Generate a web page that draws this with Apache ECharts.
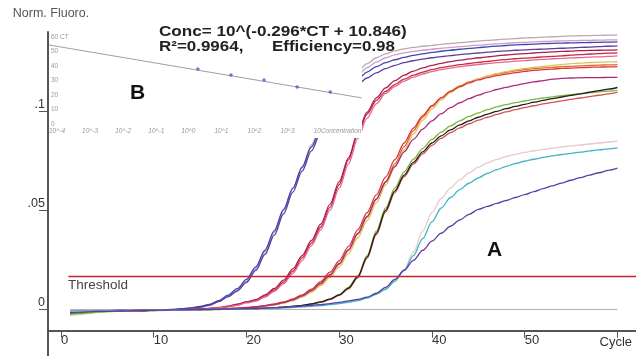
<!DOCTYPE html>
<html><head><meta charset="utf-8">
<script src="https://cdn.jsdelivr.net/npm/echarts@6/dist/echarts.min.js"></script>
<style>html,body{margin:0;padding:0;background:#fff}#c{width:636px;height:356px}</style>
</head><body><div id="c"></div>
<script>
// ---------- main amplification plot data ----------
const cycles=[1,2,3,4,5,6,7,8,9,10,11,12,13,14,15,16,17,18,19,20,21,22,23,24,25,26,27,28,29,30,31,32,33,34,35,36,37,38,39,40,41,42,43,44,45,46,47,48,49,50,51,52,53,54,55,56,57,58,59,60];
const xTicks=[0,10,20,30,40,50,60];
const xLabelValues=[0,10,20,30,40,50];
const yTicks=[0,0.05,0.1];
const yLabels=['0','.05','.1'];
const threshold=0.0166;
const thresholdX=[0.8,62];

const g1Gray=[-0.002,-0.0015,-0.001,-0.001,-0.0008,-0.0008,-0.0006,-0.0005,-0.0005,-0.0004,
-0.0003,-0.0002,0,0.0005,0.001,0.002,0.004,0.0065,0.0095,0.014,
0.0205,0.029,0.039,0.050,0.061,0.072,0.083,0.093,0.102,0.109,
0.115,0.120,0.124,0.127,0.129,0.1305,0.1315,0.1322,0.1328,0.1333,
0.1338,0.1342,0.1346,0.135,0.1354,0.1358,0.1361,0.1364,0.1367,0.137,
0.1372,0.1374,0.1376,0.1378,0.138,0.1381,0.1382,0.1383,0.1384,0.1385];
const g1Pink=[-0.0015,-0.001,-0.001,-0.0008,-0.0006,-0.0006,-0.0005,-0.0004,-0.0003,-0.0003,
-0.0002,0,0.0003,0.0007,0.0013,0.0023,0.0042,0.0068,0.0098,0.0143,
0.0208,0.0292,0.039,0.050,0.061,0.0715,0.082,0.0915,0.100,0.107,
0.113,0.118,0.122,0.1248,0.127,0.1285,0.1295,0.1302,0.1308,0.1313,
0.1318,0.1322,0.1326,0.133,0.1334,0.1337,0.134,0.1343,0.1346,0.1348,
0.135,0.1352,0.1354,0.1355,0.1356,0.1357,0.1358,0.1359,0.136,0.136];
const g1Blue=[-0.001,-0.001,-0.0008,-0.0008,-0.0006,-0.0005,-0.0005,-0.0004,-0.0003,-0.0002,
-0.0002,0,0.0004,0.0008,0.0015,0.0026,0.0045,0.0072,0.0105,0.0152,
0.0215,0.030,0.0398,0.0505,0.0612,0.0718,0.082,0.0912,0.0995,0.1063,
0.1118,0.1162,0.1198,0.1225,0.1245,0.126,0.1272,0.1282,0.129,0.1297,
0.1303,0.1308,0.1313,0.1317,0.1321,0.1325,0.1329,0.1332,0.1335,0.1337,
0.1339,0.1341,0.1343,0.1344,0.1345,0.1346,0.1347,0.1348,0.1349,0.135];
const g1Violet=[-0.002,-0.0018,-0.0015,-0.0012,-0.001,-0.001,-0.0008,-0.0006,-0.0005,-0.0004,
-0.0003,-0.0001,0.0002,0.0006,0.0012,0.0022,0.004,0.0064,0.0093,0.0137,
0.0197,0.0278,0.0375,0.0483,0.0592,0.0698,0.080,0.0892,0.0972,0.104,
0.1092,0.1135,0.1168,0.1194,0.1215,0.1232,0.1245,0.1255,0.1263,0.127,
0.1276,0.1281,0.1286,0.129,0.1294,0.1298,0.1302,0.1305,0.1308,0.131,
0.1312,0.1314,0.1316,0.1318,0.132,0.1322,0.1324,0.1326,0.1328,0.133];

const g2Red=[-0.0015,-0.0012,-0.001,-0.001,-0.0008,-0.0007,-0.0006,-0.0005,-0.0004,-0.0004,
-0.0003,-0.0002,-0.0001,0,0.0002,0.0005,0.0009,0.0015,0.0024,0.0038,
0.0045,0.0068,0.0098,0.0138,0.0193,0.026,0.0335,0.0415,0.0515,0.063,
0.0755,0.0885,0.0985,0.1055,0.110,0.1135,0.1162,0.1182,0.1198,0.121,
0.122,0.1228,0.1235,0.1241,0.1247,0.1252,0.1257,0.1261,0.1265,0.1268,
0.1271,0.1274,0.1277,0.128,0.1283,0.1286,0.1289,0.1291,0.1293,0.1295];
const g2Crimson=[-0.001,-0.001,-0.0008,-0.0007,-0.0006,-0.0005,-0.0005,-0.0004,-0.0003,-0.0003,
-0.0002,-0.0001,0,0.0001,0.0003,0.0006,0.001,0.0017,0.0027,0.0038,
0.005,0.0074,0.0106,0.0148,0.0205,0.0272,0.0348,0.043,0.053,0.0645,
0.0765,0.0892,0.0995,0.1068,0.1118,0.1155,0.1182,0.1203,0.1219,0.1232,
0.1242,0.1251,0.1258,0.1264,0.127,0.1275,0.128,0.1284,0.1288,0.1291,
0.1294,0.1297,0.13,0.1302,0.1304,0.1306,0.1307,0.1308,0.1309,0.131];
const g2Pink=[-0.0012,-0.001,-0.0009,-0.0008,-0.0007,-0.0006,-0.0005,-0.0004,-0.0004,-0.0003,
-0.0002,-0.0002,-0.0001,0,0.0002,0.0004,0.0008,0.0013,0.0021,0.0033,
0.0042,0.0063,0.0091,0.013,0.0182,0.0247,0.0322,0.0402,0.050,0.0612,
0.0735,0.0862,0.0965,0.1038,0.109,0.1125,0.1152,0.1172,0.1188,0.12,
0.121,0.1218,0.1225,0.1231,0.1236,0.1241,0.1245,0.1249,0.1253,0.1256,
0.1259,0.1262,0.1265,0.1267,0.1269,0.1271,0.1273,0.1275,0.1277,0.128];

const g3Orange=[-0.002,-0.0018,-0.0015,-0.0012,-0.001,-0.0009,-0.0008,-0.0007,-0.0006,-0.0005,
-0.0004,-0.0003,-0.0002,-0.0001,0,0.0001,0.0002,0.0004,0.0006,0.0009,
0.0013,0.0018,0.0025,0.0034,0.0047,0.0066,0.0093,0.0128,0.0172,0.0228,
0.0298,0.038,0.0465,0.0555,0.0645,0.0735,0.0822,0.0902,0.097,0.1025,
0.1068,0.1102,0.1128,0.1148,0.1164,0.1177,0.1188,0.1197,0.1204,0.121,
0.1215,0.1219,0.1222,0.1225,0.1227,0.1229,0.1231,0.1233,0.1234,0.1235];
const g3Yellow=[-0.003,-0.0025,-0.002,-0.0015,-0.0012,-0.001,-0.0009,-0.0008,-0.0007,-0.0006,
-0.0005,-0.0004,-0.0003,-0.0002,-0.0001,0,0.0001,0.0003,0.0005,0.0008,
0.0012,0.0017,0.0023,0.0032,0.0044,0.0062,0.0087,0.012,0.0162,0.0215,
0.0282,0.0362,0.0448,0.0538,0.0628,0.0718,0.0805,0.0885,0.0955,0.1012,
0.1058,0.1094,0.1122,0.1145,0.1163,0.1178,0.119,0.12,0.1209,0.1216,
0.1222,0.1227,0.1232,0.1236,0.124,0.1243,0.1246,0.1248,0.1249,0.125];
const g3Red=[-0.0016,-0.0014,-0.0012,-0.001,-0.0009,-0.0008,-0.0007,-0.0006,-0.0005,-0.0004,
-0.0003,-0.0002,-0.0001,0,0.0001,0.0002,0.0003,0.0005,0.0007,0.001,
0.0014,0.002,0.0028,0.0038,0.0053,0.0074,0.0103,0.0141,0.0188,0.0246,
0.0318,0.0402,0.0488,0.0578,0.0668,0.0756,0.084,0.0915,0.0978,0.1028,
0.1068,0.11,0.1124,0.1143,0.1158,0.117,0.118,0.1188,0.1195,0.1201,
0.1206,0.121,0.1213,0.1216,0.1218,0.122,0.1222,0.1223,0.1224,0.1225];
const g3Magenta=[-0.001,-0.001,-0.0009,-0.0008,-0.0007,-0.0006,-0.0005,-0.0005,-0.0004,-0.0003,
-0.0003,-0.0002,-0.0001,0,0.0001,0.0002,0.0003,0.0004,0.0006,0.0009,
0.0013,0.0018,0.0025,0.0035,0.0049,0.0069,0.0096,0.0132,0.0176,0.0232,
0.0302,0.0384,0.047,0.0558,0.0642,0.0722,0.0795,0.0858,0.091,0.0952,
0.0988,0.1018,0.1043,0.1064,0.1082,0.1097,0.111,0.1121,0.1131,0.114,
0.1148,0.1155,0.1162,0.1166,0.1168,0.1169,0.117,0.117,0.1171,0.1171];

const g4Black=[-0.0012,-0.001,-0.001,-0.0009,-0.0008,-0.0007,-0.0006,-0.0005,-0.0005,-0.0004,
-0.0003,-0.0003,-0.0002,-0.0001,0,0,0.0001,0.0002,0.0003,0.0004,
0.0005,0.0007,0.0009,0.0012,0.0016,0.0021,0.0028,0.0038,0.0052,0.0074,
0.0108,0.0165,0.0265,0.0385,0.050,0.0598,0.0678,0.0742,0.0795,0.084,
0.0876,0.0906,0.0931,0.0952,0.097,0.0986,0.1,0.1013,0.1025,0.1035,
0.1046,0.1055,0.1064,0.1072,0.108,0.1088,0.1096,0.1104,0.1112,0.112];
const g4Green=[-0.0025,-0.002,-0.0016,-0.0013,-0.001,-0.0009,-0.0008,-0.0007,-0.0006,-0.0005,
-0.0004,-0.0003,-0.0002,-0.0002,-0.0001,0,0,0.0001,0.0002,0.0003,
0.0004,0.0006,0.0008,0.0011,0.0015,0.002,0.0027,0.0037,0.0052,0.0075,
0.0112,0.017,0.0272,0.0395,0.0512,0.0612,0.0694,0.0758,0.0812,0.0858,
0.0895,0.0926,0.0952,0.0974,0.0992,0.1008,0.1022,0.1034,0.1044,0.1052,
0.106,0.1067,0.1073,0.1079,0.1084,0.1089,0.1094,0.1098,0.1102,0.1106];
const g4Red=[-0.0014,-0.0012,-0.001,-0.0009,-0.0008,-0.0007,-0.0006,-0.0006,-0.0005,-0.0004,
-0.0004,-0.0003,-0.0002,-0.0001,0,0,0.0001,0.0002,0.0003,0.0004,
0.0005,0.0006,0.0008,0.0011,0.0015,0.002,0.0027,0.0036,0.005,0.0071,
0.0104,0.016,0.0258,0.0378,0.0492,0.059,0.067,0.0733,0.0785,0.0828,
0.0863,0.0892,0.0916,0.0937,0.0955,0.097,0.0984,0.0997,0.1008,0.1018,
0.1028,0.1037,0.1045,0.1053,0.106,0.1067,0.1074,0.1081,0.1088,0.1095];

const g5LightPink=[-0.001,-0.0009,-0.0008,-0.0008,-0.0007,-0.0006,-0.0005,-0.0005,-0.0004,-0.0004,
-0.0003,-0.0003,-0.0002,-0.0002,-0.0001,0,0,0.0001,0.0002,0.0003,
0.0004,0.0005,0.0007,0.0009,0.0011,0.0014,0.0017,0.0021,0.0026,0.0031,
0.0038,0.0047,0.006,0.0078,0.0105,0.0145,0.020,0.029,0.0395,0.049,
0.056,0.0612,0.0655,0.069,0.0718,0.074,0.0757,0.0771,0.0783,0.0793,
0.0801,0.0808,0.0814,0.082,0.0825,0.083,0.0835,0.084,0.0845,0.085];
const g5Cyan=[-0.0008,-0.0008,-0.0007,-0.0007,-0.0006,-0.0006,-0.0005,-0.0004,-0.0004,-0.0003,
-0.0003,-0.0002,-0.0002,-0.0001,0,0,0.0001,0.0001,0.0002,0.0003,
0.0004,0.0005,0.0006,0.0008,0.001,0.0013,0.0016,0.002,0.0025,0.003,
0.0036,0.0045,0.0058,0.0076,0.0102,0.0142,0.0198,0.0272,0.0358,0.0442,
0.0512,0.0565,0.0605,0.0637,0.0664,0.0687,0.0706,0.0722,0.0736,0.0748,
0.0758,0.0767,0.0775,0.0782,0.0788,0.0794,0.08,0.0805,0.081,0.0815];
const g5Purple=[-0.0018,-0.0015,-0.0012,-0.001,-0.0009,-0.0008,-0.0007,-0.0006,-0.0005,-0.0004,
-0.0003,-0.0002,-0.0002,-0.0001,0,0.0001,0.0001,0.0002,0.0003,0.0004,
0.0005,0.0007,0.0009,0.0011,0.0014,0.0017,0.0021,0.0025,0.003,0.0036,
0.0043,0.0051,0.0062,0.0082,0.0112,0.0152,0.0198,0.0248,0.0298,0.0345,
0.0385,0.042,0.0452,0.048,0.0505,0.052,0.0535,0.055,0.0565,0.058,
0.0595,0.061,0.0624,0.0638,0.0652,0.0665,0.0678,0.069,0.0702,0.0713];
const ntc=[0,0,0,0,0,0,0,0,0,0,0,0,0,0,0,0,0,0,0,0,0,0,0,0,0,0,0,0,0,0,
0,0,0,0,0,0,0,0,0,0,0,0,0,0,0,0,0,0,0,0,0,0,0,0,0,0,0,0,0,0];

// ---------- inset (standard curve) data ----------
const insetLogConc=[0.5,1.5,2.5,3.5,4.5];
const insetCt=[37.9,33.8,30.3,25.5,22.1];
const fitX=[-4,5.45];
const fitCt=[54.5,18.0];
const insetXTicks=[-4,-3,-2,-1,0,1,2,3,4];
const insetXLabels=['10^-4','10^-3','10^-2','10^-1','10^0','10^1','10^2','10^3','10Concentration'];
const insetYTicks=[0,10,20,30,40,50,60];
const insetYLabels=['0','10','20','30','40','50','60 CT'];

const FONT='"Liberation Sans", Arial, Helvetica, sans-serif';
const curves=[
 {c:'#b8acae',d:g1Gray},{c:'#d49ac8',d:g1Pink},{c:'#3848b4',d:g1Blue},{c:'#5c3c98',d:g1Violet},
 {c:'#d0263a',d:g2Red},{c:'#a8204e',d:g2Crimson},{c:'#e26a94',d:g2Pink},
 {c:'#e2682c',d:g3Orange},{c:'#d9c35a',d:g3Yellow},{c:'#d83a3a',d:g3Red},{c:'#ac2a78',d:g3Magenta},
 {c:'#80b43a',d:g4Green},{c:'#d65050',d:g4Red},{c:'#1e1e1e',d:g4Black},
 {c:'#e9c9cc',d:g5LightPink},{c:'#3fb2c4',d:g5Cyan},{c:'#5a3ca6',d:g5Purple}
];
function lookup(vals,labels,v){for(let i=0;i<vals.length;i++){if(Math.abs(vals[i]-v)<1e-9)return labels[i];}return '';}

const series=[];
series.push({type:'line',data:cycles.map((c,i)=>[c,ntc[i]]),showSymbol:false,lineStyle:{color:'#b9aeaa',width:1},z:1,silent:true});
curves.forEach(cv=>series.push({type:'line',data:cycles.map((c,i)=>[c,cv.d[i]]),smooth:0.3,smoothMonotone:'x',showSymbol:false,
  lineStyle:{color:cv.c,width:1.3},itemStyle:{color:cv.c},z:2,silent:true}));
series.push({type:'line',data:thresholdX.map(x=>[x,threshold]),showSymbol:false,lineStyle:{color:'#c4222c',width:1.5},z:3,silent:true});
series.push({type:'line',xAxisIndex:1,yAxisIndex:1,data:fitX.map((x,i)=>[x,fitCt[i]]),showSymbol:false,lineStyle:{color:'#a898a8',width:1},z:7,silent:true});
series.push({type:'scatter',xAxisIndex:1,yAxisIndex:1,data:insetLogConc.map((x,i)=>[x,insetCt[i]]),symbolSize:3.5,itemStyle:{color:'#4a58c8'},z:8,silent:true});

const TITLE_FONT='bold 15px '+FONT;
const chart=echarts.init(document.getElementById('c'));
chart.setOption({
 animation:false,
 backgroundColor:'#fff',
 grid:[
  {left:48,right:0,top:32,bottom:25.3,containLabel:false,outerBoundsMode:'none'},
  {left:49,top:37,width:313,height:87,containLabel:false,outerBoundsMode:'none'}
 ],
 xAxis:[
  {type:'value',gridIndex:0,min:-1.4,max:62,z:10,
   axisLine:{show:true,onZero:false,lineStyle:{color:'#555',width:2}},
   axisTick:{show:true,customValues:xTicks,length:7,lineStyle:{color:'#555',width:1}},
   axisLabel:{show:true,customValues:xLabelValues,align:'left',margin:3,fontSize:13,color:'#333',fontFamily:FONT},
   splitLine:{show:false},
   name:'Cycle',nameLocation:'end',nameGap:-4,
   nameTextStyle:{align:'right',verticalAlign:'top',padding:[5,0,0,0],fontSize:13,color:'#333',fontFamily:FONT}},
  {type:'value',gridIndex:1,min:-4,max:5.46,z:6,
   axisLine:{show:false},axisTick:{show:false},splitLine:{show:false},
   axisLabel:{show:true,customValues:insetXTicks,formatter:v=>lookup(insetXTicks,insetXLabels,v),align:'left',margin:4,
     fontSize:6.5,fontStyle:'italic',color:'#999',fontFamily:FONT}}
 ],
 yAxis:[
  {type:'value',gridIndex:0,min:-0.0107,max:0.14,z:10,
   axisLine:{show:true,onZero:false,lineStyle:{color:'#555',width:2}},
   axisTick:{show:true,customValues:yTicks,length:9,lineStyle:{color:'#555',width:1}},
   axisLabel:{show:true,customValues:yTicks,formatter:v=>lookup(yTicks,yLabels,v),verticalAlign:'bottom',margin:3,fontSize:12.5,color:'#333',fontFamily:FONT},
   splitLine:{show:false},
   name:'Norm. Fluoro.',nameLocation:'end',nameGap:12,
   nameTextStyle:{fontSize:12.5,color:'#555',fontFamily:FONT,padding:[0,0,0,6]}},
  {type:'value',gridIndex:1,min:0,max:60,z:6,
   axisLine:{show:false},axisTick:{show:false},splitLine:{show:false},
   axisLabel:{show:true,inside:true,customValues:insetYTicks,formatter:v=>lookup(insetYTicks,insetYLabels,v),align:'left',margin:2,
     fontSize:6.5,color:'#999',fontFamily:FONT}}
 ],
 graphic:{elements:[
  {type:'rect',shape:{x:49,y:29,width:313,height:109},style:{fill:'#fff'},z:5,silent:true},
  {type:'line',shape:{x1:48,y1:330,x2:48,y2:356},style:{stroke:'#555',lineWidth:2},z:10,silent:true},
  {type:'text',x:159,y:31.5,scaleX:1.14,z:10,style:{text:'Conc= 10^(-0.296*CT + 10.846)',font:TITLE_FONT,fill:'#222',verticalAlign:'middle'}},
  {type:'text',x:159,y:47,scaleX:1.13,z:10,style:{text:'R²=0.9964,',font:TITLE_FONT,fill:'#222',verticalAlign:'middle'}},
  {type:'text',x:272,y:47,scaleX:1.13,z:10,style:{text:'Efficiency=0.98',font:TITLE_FONT,fill:'#222',verticalAlign:'middle'}},
  {type:'text',x:130,y:93.5,z:10,style:{text:'B',font:'bold 21px '+FONT,fill:'#111',verticalAlign:'middle'}},
  {type:'text',x:487,y:250,z:10,style:{text:'A',font:'bold 21px '+FONT,fill:'#111',verticalAlign:'middle'}},
  {type:'text',x:68,y:285,z:10,style:{text:'Threshold',font:'13.5px '+FONT,fill:'#444',verticalAlign:'middle'}}
 ]},
 series:series
});
</script></body></html>
